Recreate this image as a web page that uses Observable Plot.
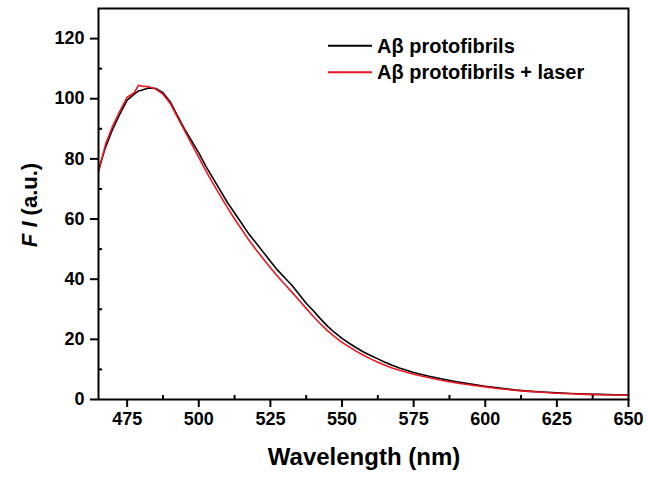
<!DOCTYPE html>
<html>
<head>
<meta charset="utf-8">
<script src="https://cdn.jsdelivr.net/npm/d3@7"></script>
<script src="https://cdn.jsdelivr.net/npm/@observablehq/plot@0.6"></script>
<style>
  html, body { margin: 0; padding: 0; background: #fff; }
  #chart { width: 648px; height: 477px; }
  svg { font-family: "Liberation Sans", Arial, sans-serif; }
  svg g[aria-label="x-axis tick label"] text,
  svg g[aria-label="y-axis tick label"] text { font-size: 18px; font-weight: bold; fill: #000; }
</style>
</head>
<body>
<div id="chart"></div>
<script>
// Wavelength (nm) grid
const wavelengths = [465,467.5,470,472.5,475,477.5,479,480,482.5,485,487.5,490,492.5,495,497.5,500,502.5,505,507.5,510,512.5,515,517.5,520,522.5,525,527.5,530,532.5,535,537.5,540,542.5,545,547.5,550,552.5,555,557.5,560,562.5,565,567.5,570,575,580,585,590,595,600,605,610,615,620,625,630,635,640,645,650];
// Aβ protofibrils (black)
const protofibrils = [76.5,84,90,95,99.5,101.5,102.6,102.8,103.6,103.4,102,99,94.5,90,86,82,77.5,73.5,69.5,65.5,62,58.5,55,52,49,46,43,40.5,38,35,32,29.5,26.8,24.3,22.2,20.3,18.7,17.2,15.8,14.6,13.5,12.4,11.4,10.5,9.0,7.8,6.8,5.9,5.1,4.4,3.8,3.2,2.8,2.5,2.2,2.0,1.8,1.7,1.6,1.5];
// Aβ protofibrils + laser (red)
const protofibrilsLaser = [75.5,85,91,96,100.5,102,104.5,104.2,104,103.2,101.5,98.5,94,89.5,85,80.5,76,71.8,67.8,63.8,60,56.5,53,49.8,46.8,43.8,41,38.3,35.7,33,30.3,27.6,25.1,22.8,20.8,19,17.5,16,14.7,13.5,12.4,11.4,10.5,9.7,8.4,7.3,6.3,5.5,4.8,4.2,3.6,3.1,2.7,2.4,2.1,1.9,1.7,1.6,1.5,1.4];

const seriesNames = ["Aβ protofibrils", "Aβ protofibrils + laser"];
const seriesColors = ["#000000", "#ec1620"];
const xTicks = [475,500,525,550,575,600,625,650];
const xMinorTicks = [487.5,512.5,537.5,562.5,587.5,612.5,637.5];
const yTicks = [0,20,40,60,80,100,120];
const yMinorTicks = [10,30,50,70,90,110];
const xLabel = "Wavelength (nm)";

const rows = [];
wavelengths.forEach((w, i) => {
  rows.push({w, v: protofibrils[i], s: seriesNames[0]});
});
wavelengths.forEach((w, i) => {
  rows.push({w, v: protofibrilsLaser[i], s: seriesNames[1]});
});

const plot = Plot.plot({
  width: 648,
  height: 477,
  marginLeft: 98,
  marginRight: 20,
  marginTop: 8,
  marginBottom: 78,
  style: {fontFamily: '"Liberation Sans", Arial, sans-serif', background: "#fff"},
  x: {domain: [465, 650]},
  y: {domain: [0, 130]},
  color: {domain: seriesNames, range: seriesColors},
  marks: [
    Plot.line(rows, {x: "w", y: "v", stroke: "s", z: "s", strokeWidth: 1.6}),
    Plot.frame({stroke: "#000", strokeWidth: 2}),
    Plot.axisX({ticks: xTicks, tickSize: 8, tickPadding: 5, tickFormat: d => String(d), label: null, strokeWidth: 2, fill: "#000", stroke: "#000"}),
    Plot.axisX({ticks: xMinorTicks, tickSize: -4, text: null, label: null, strokeWidth: 2, stroke: "#000"}),
    Plot.axisY({ticks: yTicks, tickSize: 8, tickPadding: 6, tickFormat: d => String(d), label: null, strokeWidth: 2, fill: "#000", stroke: "#000"}),
    Plot.axisY({ticks: yMinorTicks, tickSize: -4, text: null, label: null, strokeWidth: 2, stroke: "#000"})
  ]
});

document.getElementById("chart").appendChild(plot);

const svg = d3.select(plot);
// x-axis title
svg.append("text")
  .attr("x", 364).attr("y", 465)
  .attr("text-anchor", "middle")
  .attr("font-size", 24).attr("font-weight", "bold").attr("fill", "#000")
  .text(xLabel);
// y-axis title
const yl = svg.append("text")
  .attr("transform", "translate(37,205) rotate(-90)")
  .attr("text-anchor", "middle")
  .attr("font-size", 22).attr("font-weight", "bold").attr("fill", "#000");
yl.append("tspan").attr("font-style", "italic").text("F I");
yl.append("tspan").text(" (a.u.)");

// legend
seriesNames.forEach((name, i) => {
  const cy = 45.7 + i * 26.5;
  svg.append("line")
    .attr("x1", 328).attr("x2", 372).attr("y1", cy).attr("y2", cy)
    .attr("stroke", seriesColors[i]).attr("stroke-width", 2);
  svg.append("text")
    .attr("x", 377).attr("y", cy + 7)
    .attr("text-anchor", "start")
    .attr("font-size", 20).attr("font-weight", "bold").attr("fill", "#000")
    .text(name);
});
</script>
</body>
</html>
